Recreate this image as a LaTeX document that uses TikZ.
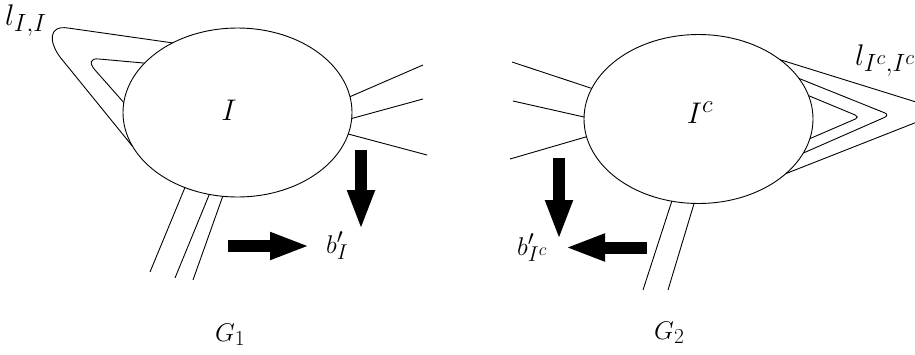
\documentclass[tikz,border=0pt]{standalone}
\usetikzlibrary{shapes.geometric,arrows.meta}
\newcommand{\bigtxt}[1]{\scalebox{1.2}{\Huge #1}}
\newcommand{\midtxt}[1]{\scalebox{1.03}{\Huge #1}}
\begin{document}
\begin{tikzpicture}[x=1pt,y=-1pt,
  blob/.style={draw, ellipse, line width=0.9pt, minimum width=229pt, minimum height=169pt, inner sep=0pt, outer sep=0pt},
  wire/.style={line width=0.9pt},
  fat/.style={line width=12pt, -{Triangle[length=40pt,width=25pt]}},
  lab/.style={inner sep=0pt}]
\useasboundingbox (0,0) rectangle (915,354);
\clip (0,0) rectangle (915,354);

% ---------- G1 ----------
\node[blob] (E1) at (237.5,112.5) {};
\node[lab] (LI) at (229,110.5) {\bigtxt{$I$}};
\node[lab, anchor=base west] (lII) at (5,25) {\bigtxt{$l_{I,I}$}};

\draw[wire] (E1.133.3) -- (68,28) .. controls (48,25) and (49,42) .. (60,57) -- (E1.198.3);
\draw[wire] (E1.152.8) -- (99,59) .. controls (90,58) and (89,63) .. (95,70) -- (E1.175.2);

\coordinate (r1) at (423,65);
\coordinate (r2) at (423,99);
\coordinate (r3) at (427,155);
\draw[wire] (E1.8.9) -- (r1);
\draw[wire] (E1.357.7) -- (r2);
\draw[wire] (E1.349.5) -- (r3);

\coordinate (d1) at (150,272);
\coordinate (d2) at (175,278);
\coordinate (d3) at (193,280);
\draw[wire] (E1.235.2) -- (d1);
\draw[wire] (E1.251.5) -- (d2);
\draw[wire] (E1.260.1) -- (d3);

\node[lab, anchor=base west] (b1) at (326,253) {\midtxt{$b'_I$}};
\coordinate (a1s) at (361,150);
\coordinate (a1e) at (361,230);
\coordinate (a2s) at (228,246);
\coordinate (a2e) at (310,246);
\draw[fat] (a1s) -- (a1e);
\draw[fat] (a2s) -- (a2e);

\node[lab, anchor=base west] (G1) at (215,341) {\midtxt{$G_1$}};

% ---------- G2 ----------
\node[blob] (E2) at (698.5,119) {};
\node[lab] (LIc) at (700,113) {\bigtxt{$I^c$}};
\node[lab, anchor=base west] (lIcIc) at (855,65) {\bigtxt{$l_{I^c,I^c}$}};

\coordinate (s1) at (512,62);
\coordinate (s2) at (513,101);
\coordinate (s3) at (510,159);
\draw[wire] (E2.164.8) -- (s1);
\draw[wire] (E2.179) -- (s2);
\draw[wire] (E2.189.2) -- (s3);

\draw[wire, rounded corners=8pt] (E2.36.2) -- (945,111) -- (E2.328);
\draw[wire, rounded corners=6pt] (E2.22.5) -- (890,115) -- (E2.342.5);
\draw[wire, rounded corners=5pt] (E2.12.5) -- (860,117) -- (E2.350.7);

\coordinate (e1) at (643,290);
\coordinate (e2) at (668,290);
\draw[wire] (E2.252.7) -- (e1);
\draw[wire] (E2.267.6) -- (e2);

\node[lab, anchor=base west] (b2) at (517,255) {\midtxt{$b'_{I^c}$}};
\coordinate (c1s) at (559,158);
\coordinate (c1e) at (559,240);
\coordinate (c2s) at (647,247.5);
\coordinate (c2e) at (565,247.5);
\draw[fat] (c1s) -- (c1e);
\draw[fat] (c2s) -- (c2e);

\node[lab, anchor=base west] (G2) at (654,339) {\midtxt{$G_2$}};
\end{tikzpicture}
\end{document}
